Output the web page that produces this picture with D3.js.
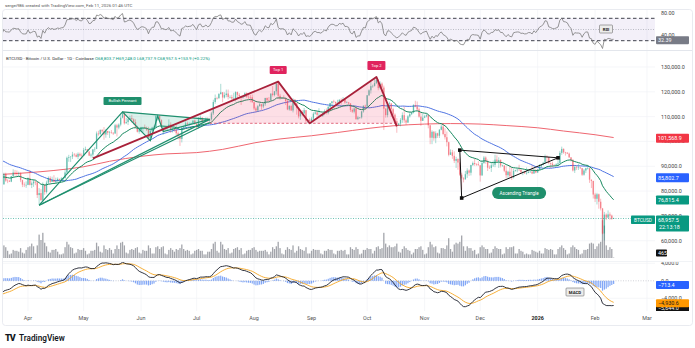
<!DOCTYPE html>
<html><head><meta charset="utf-8">
<script src="https://cdn.jsdelivr.net/npm/d3@7"></script>
<style>body{margin:0;background:#fff}svg{display:block;font-family:Roboto,"Liberation Sans",Arial,sans-serif}</style>
</head><body><svg id="c" width="695" height="348"></svg>
<script>
// ---------------- DATA (prices in thousands USD) ----------------
const closeStart = "2025-01-20";
const closes = [
102.0,106.1,103.6,104.0,104.7,104.7,102.6,102.0,101.3,103.7,104.7,102.4,
100.6,97.7,101.4,97.9,96.6,96.5,96.5,96.4,96.5,97.4,95.7,97.8,96.6,97.5,97.6,96.1,95.8,95.5,96.6,98.3,96.1,96.6,96.3,91.5,88.7,84.3,84.7,84.4,
86.1,94.3,86.1,87.2,90.6,89.9,86.7,86.2,80.7,78.5,82.9,83.7,81.1,84.0,84.3,82.6,84.1,82.7,86.9,84.2,84.1,83.8,86.0,87.5,87.4,86.9,87.2,84.4,82.6,82.4,82.5,
85.2,82.5,83.1,83.8,83.5,78.4,79.2,76.3,82.6,79.6,83.4,85.3,83.7,84.5,83.6,84.0,84.9,84.5,85.1,85.2,87.5,93.4,93.7,93.9,94.7,94.6,93.8,95.0,94.3,94.2,
96.5,96.9,95.9,94.3,94.7,96.8,97.0,103.2,102.9,104.6,104.1,102.8,104.2,103.5,103.7,103.5,103.2,106.5,105.6,106.8,109.6,111.7,107.3,107.8,109.0,109.4,108.9,107.8,105.6,103.9,104.6,
105.7,105.8,105.4,104.7,101.5,104.3,105.6,105.8,110.2,110.3,108.6,105.9,106.1,105.4,105.6,106.8,104.6,104.9,104.6,103.3,102.1,101.0,105.5,106.0,107.3,106.9,107.1,107.3,108.4,107.1,
105.7,108.9,109.6,108.0,108.2,109.2,108.3,108.9,111.3,115.9,117.5,117.4,119.1,119.8,117.7,118.7,119.3,117.9,117.9,117.3,117.4,119.9,118.8,118.3,117.6,117.9,119.4,118.0,117.9,117.8,115.8,
113.3,112.5,114.2,115.0,114.1,115.0,117.5,116.6,116.5,119.3,118.7,120.2,123.3,118.4,117.4,117.5,117.4,116.3,112.9,114.3,112.5,116.9,115.4,113.5,110.1,111.8,111.3,112.6,108.4,108.8,108.2,
109.2,111.2,111.7,110.7,110.7,110.2,111.1,112.0,111.5,113.9,115.5,116.1,115.9,115.3,115.4,116.8,116.5,117.1,115.7,115.7,115.3,112.7,112.0,113.3,109.0,109.7,109.7,112.1,114.4,114.1,
118.6,120.6,122.3,122.4,123.5,124.8,121.5,123.3,121.7,113.2,110.6,115.2,115.3,113.0,110.8,108.2,106.5,107.2,108.7,110.6,108.5,107.6,110.1,111.0,111.6,114.6,114.1,112.9,110.0,108.3,109.6,
110.1,110.6,106.5,101.5,103.9,101.3,103.3,102.3,104.7,106.0,103.0,101.7,99.7,94.6,95.6,94.2,92.2,92.9,91.5,86.6,85.1,84.7,86.8,88.3,87.4,90.5,91.3,90.9,90.8,90.4,
86.3,91.3,93.5,92.1,89.4,89.3,90.4,90.6,92.7,92.0,92.5,90.3,90.3,88.2,86.4,87.8,86.1,85.5,88.1,88.4,88.6,88.5,87.6,87.7,87.2,87.3,87.8,87.8,87.1,88.4,87.5,
88.7,90.0,90.6,91.4,93.9,93.7,91.3,91.0,90.5,90.4,90.8,91.2,95.4,97.0,95.6,95.5,95.1,93.6,92.6,88.3,89.7,89.5,89.5,89.2,86.6,88.3,89.2,89.2,84.6,84.1,78.6,
76.9,78.7,75.7,73.0,62.9,70.5,69.3,70.6,70.1,68.8,68.9575];

const candleStart = "2025-03-15";
const highs = [
84.7,85.0,84.7,84.1,87.4,87.4,84.8,84.5,86.1,88.8,88.5,88.3,87.8,87.5,84.6,83.5,83.9,
85.5,88.5,83.9,84.7,84.2,83.8,81.2,80.8,83.5,82.7,84.2,85.9,86.0,85.8,86.4,85.4,85.5,85.0,85.6,85.3,88.7,93.9,94.6,94.0,95.8,95.3,95.2,95.6,95.5,95.2,
97.4,97.9,96.9,96.1,95.2,96.9,97.7,104.0,104.3,104.9,105.0,105.8,105.0,104.3,104.2,104.6,103.7,107.1,107.1,107.3,110.8,111.9,111.9,109.5,109.4,110.4,110.7,109.3,108.9,106.3,104.9,
105.9,105.9,106.8,106.0,105.9,105.2,105.9,106.4,110.6,110.5,110.4,108.9,106.2,106.2,106.0,108.9,107.7,105.6,105.3,106.5,104.0,103.0,106.1,106.3,108.1,108.0,107.7,107.6,108.5,108.8,
107.5,109.8,110.5,109.7,108.4,109.7,109.7,109.2,111.9,116.8,118.9,118.0,119.5,123.2,119.9,119.8,120.9,120.9,118.6,118.8,119.6,120.2,120.1,119.5,118.4,118.2,119.8,119.8,119.2,118.8,118.9,
116.0,114.0,114.7,115.7,115.1,115.7,117.6,117.7,117.9,119.3,122.3,120.3,123.7,124.5,119.2,117.9,118.6,117.6,116.8,114.6,114.8,117.4,117.0,115.6,113.6,112.4,112.6,113.5,112.6,108.9,109.5,
109.9,111.8,112.6,112.2,113.4,111.2,111.6,112.9,113.3,114.3,115.5,116.3,116.8,116.1,116.8,117.0,117.4,117.9,117.5,116.2,115.9,115.4,113.3,114.0,113.5,110.3,109.8,112.3,114.5,114.8,
118.7,121.0,123.9,122.9,125.7,126.2,125.1,124.2,123.8,122.5,113.4,115.8,116.0,115.4,113.6,111.3,109.4,107.5,109.4,111.7,114.0,109.2,110.6,112.0,111.9,115.0,116.4,116.1,113.6,111.6,111.2,
110.6,111.2,110.8,106.6,104.5,104.2,104.1,103.5,105.0,106.7,107.4,105.3,104.0,99.9,96.8,96.6,96.0,93.8,93.2,93.0,87.4,85.6,88.1,89.2,88.7,90.6,91.9,93.1,91.2,92.0,
90.4,92.3,94.1,94.0,92.7,90.3,91.7,92.3,94.6,94.4,93.6,92.8,90.6,90.4,90.0,88.2,90.4,89.5,89.0,88.6,89.1,90.6,88.9,88.0,88.1,89.5,88.0,88.2,90.3,89.2,89.0,
88.9,90.9,90.8,91.8,94.7,94.4,93.7,91.5,91.8,90.8,91.2,92.4,96.2,97.9,97.2,95.8,95.6,95.5,93.6,92.8,90.4,90.3,91.0,89.8,89.3,88.9,89.4,90.5,89.3,84.6,84.1,
79.3,79.3,79.0,76.9,73.2,71.6,71.0,72.2,71.4,70.5,69.248];
const lows = [
83.9,82.0,82.4,81.2,82.6,83.7,83.2,83.7,83.6,85.6,86.3,85.9,85.8,83.6,81.6,81.6,81.3,
82.4,82.3,81.2,81.7,82.4,77.2,74.5,76.2,74.6,78.5,79.0,82.7,83.0,83.7,83.6,83.1,83.9,84.2,84.3,83.9,85.1,87.0,91.8,91.7,92.9,93.9,93.6,92.9,93.9,92.9,
94.1,96.3,95.7,94.1,93.5,93.4,95.8,96.9,102.3,102.8,103.3,100.7,101.5,102.6,101.4,103.1,102.6,103.1,102.0,104.9,106.1,109.3,106.8,107.2,106.6,108.7,107.6,106.8,105.4,103.6,103.1,
103.9,103.8,105.1,104.2,100.4,101.1,103.9,104.9,105.3,108.4,108.1,105.5,102.7,104.4,104.5,105.5,103.4,103.6,103.9,102.4,100.8,98.2,99.6,104.6,105.5,106.6,106.4,106.9,107.2,106.7,
105.3,105.2,108.6,107.3,107.8,107.8,107.5,107.5,108.4,110.6,115.2,116.9,117.3,118.9,115.8,117.3,117.8,116.9,117.3,116.6,116.3,116.2,117.4,117.8,114.7,117.3,117.9,117.5,117.1,115.8,115.6,
112.7,112.0,112.0,114.1,112.7,113.4,114.3,115.9,116.3,116.5,118.1,118.2,118.9,117.2,116.8,117.2,117.3,114.7,112.6,112.4,112.3,111.7,114.6,110.8,109.3,108.7,110.4,110.9,107.5,107.4,108.1,
107.3,108.6,110.8,109.3,110.0,109.9,110.0,110.6,110.9,110.9,113.4,114.1,115.3,115.0,114.5,114.8,114.8,116.4,115.2,115.4,115.1,111.9,111.5,111.3,108.7,108.6,109.1,109.2,111.6,112.7,
113.9,118.3,119.3,121.6,122.1,123.1,120.6,121.0,119.7,104.6,109.6,109.7,113.0,109.9,110.2,107.5,103.5,106.4,106.1,107.5,107.5,106.7,107.5,109.6,110.6,111.3,113.8,112.2,109.6,106.3,108.9,
109.4,109.7,105.3,98.9,98.9,100.3,99.3,101.4,101.4,104.5,102.5,100.8,98.0,94.0,94.6,93.0,91.3,89.3,88.6,86.1,80.6,83.5,84.7,85.3,86.1,86.3,90.1,90.2,90.2,90.3,
83.8,86.2,91.0,91.0,88.1,88.9,87.7,89.7,89.6,91.6,89.3,89.5,89.8,87.6,85.2,85.3,85.4,84.5,85.1,87.8,87.6,88.2,86.8,86.4,86.9,86.6,87.2,87.4,86.8,86.9,87.2,
87.3,88.4,89.4,90.4,91.1,91.7,90.8,89.3,89.6,90.2,90.0,90.1,91.1,94.6,95.0,94.3,94.9,93.4,91.9,87.9,87.3,88.5,88.5,89.0,86.1,86.2,87.3,88.7,83.3,81.2,77.0,
75.6,74.6,72.9,72.2,62.6,60.1,68.3,69.2,68.4,68.4,68.7379];
// daily volume, thousand BTC
const volumes = [
4,5,8,11,14,12,8,4,5,9,8,8,7,11,6,5,9,
12,13,16,13,5,14,26,20,28,17,13,7,6,9,9,10,7,4,4,5,12,18,15,12,11,5,6,10,9,9,
11,8,4,5,8,8,9,17,13,7,6,14,10,9,11,9,5,10,14,10,17,18,14,6,5,9,10,9,11,12,6,
5,9,8,8,14,11,5,5,12,13,10,12,13,5,4,9,11,9,7,10,9,11,15,10,8,9,8,4,5,8,
9,10,8,8,4,4,7,7,10,16,18,8,6,18,15,10,9,11,5,6,10,11,12,9,11,4,5,8,9,9,11,
12,9,7,8,8,8,9,7,4,7,12,10,13,18,11,5,4,9,12,10,9,14,6,8,13,10,9,8,12,5,5,
8,10,9,9,9,5,4,8,8,10,9,9,5,4,8,8,9,8,9,4,4,12,10,9,12,10,4,5,9,9,
11,10,10,5,8,12,13,10,11,28,16,12,14,12,12,13,16,7,6,10,13,11,9,8,4,6,10,10,12,13,9,
4,5,12,18,15,12,13,6,5,11,11,10,14,22,10,7,15,17,16,18,25,13,8,13,11,11,8,9,4,5,
12,14,12,10,10,5,6,10,13,11,10,10,4,5,12,10,12,12,13,5,5,10,8,7,4,5,4,4,9,8,7,
6,8,5,5,11,10,9,10,9,4,4,10,12,14,11,9,4,5,12,14,12,10,9,4,5,9,9,10,16,17,16,
10,13,16,18,42,36,14,9,12,10,0.465];
// 200-day SMA
const sma200Dates = ["2025-03-15","2025-04-01","2025-04-15","2025-05-01","2025-05-15","2025-06-01","2025-06-15","2025-07-01","2025-07-15","2025-08-01","2025-08-15","2025-09-01","2025-09-15","2025-10-01","2025-10-15","2025-11-01","2025-11-15","2025-12-01","2025-12-15","2026-01-01","2026-01-15","2026-02-01","2026-02-11"];
const sma200Vals = [86.6,87.4,88.3,89.8,92.0,94.0,95.0,95.5,96.8,99.4,101.0,102.3,103.6,105.2,106.3,107.0,107.2,107.0,106.4,105.5,104.2,102.7,101.5689];

const monthTicks = ["2025-04-01","2025-05-01","2025-06-01","2025-07-01","2025-08-01","2025-09-01","2025-10-01","2025-11-01","2025-12-01","2026-01-01","2026-02-01","2026-03-01"];
const monthLabels = ["Apr","May","Jun","Jul","Aug","Sep","Oct","Nov","Dec","2026","Feb","Mar"];
const priceTicks = [130000,120000,110000,100000,90000,80000,70000,60000];
const rsiTicks = [80,40];
const macdTicks = [4000,0,-4000];

// drawings [date, price k]
const pennantOutline = [["2025-04-07",74.3],["2025-05-22",111.9],["2025-06-06",100.3],["2025-06-10",110.2],["2025-06-13",104.0],["2025-07-08",108.9]];
const pennantFan = [[["2025-04-07",74.3],["2025-07-08",108.9]],[["2025-04-07",74.3],["2025-07-08",107.6]],[["2025-05-22",111.9],["2025-07-08",108.9]]];
const topsLine = [["2025-05-06",93.2],["2025-08-14",124.1],["2025-08-31",107.3],["2025-10-06",126.0],["2025-10-17",106.1]];
const topsFill = [["2025-07-08",107.3],["2025-07-08",112.6],["2025-08-14",124.1],["2025-08-31",107.3],["2025-10-06",126.0],["2025-10-17",106.1],["2025-10-17",107.3]];
const neckline = [["2025-07-08",107.3],["2025-10-17",107.3]];
const trianglePts = [["2025-11-20",96.5],["2025-11-21",77.2],["2026-01-12",93.4]];
const noteLabels = [
 {text:"Bullish Pennant",d:"2025-05-22",p:116.3,w:38,h:8,fill:"#1f8f6c",r:1},
 {text:"Top 1",d:"2025-08-14",p:128.8,w:17,h:8,fill:"#e0245e",r:1},
 {text:"Top 2",d:"2025-10-06",p:130.6,w:18,h:9,fill:"#e0245e",r:1},
 {text:"Ascending Triangle",d:"2025-12-22",p:79.2,w:54,h:12,fill:"#1f8f6c",r:6}
];
const headerText = "sergei986 created with TradingView.com, Feb 11, 2026 01:46 UTC";
const symbolText = "BTCUSD · Bitcoin / U.S. Dollar · 1D · Coinbase";
const ohlcText = "O68,803.7 H69,248.0 L68,737.9 C68,957.5 +153.9 (+0.22%)";
const lastVals = {sma200:101568.9, sma50:85802.7, ema20:76815.4, close:68957.5, countdown:"22:13:18", vol:"465", rsi:"32.39", hist:-713.4, signal:-4930.6, macd:-5644.0};

// ---------------- SETUP ----------------
const P = s => new Date(s + "T00:00:00Z");
const svg = d3.select("#c");
const X0 = 3, X1 = 655;
const x = d3.scaleUtc().domain([P("2025-04-01"), P("2026-03-01")]).range([28, 647]);
const y = d3.scaleLinear().domain([60000,130000]).range([240.7,67]);
const yv = d3.scaleLinear().domain([0,30]).range([258,231]);
const yr = d3.scaleLinear().domain([30,70]).range([40.7,18.3]);
const ym = d3.scaleLinear().domain([-4000,4000]).range([298.3,263.3]);
const fmt1 = d3.format(",.1f");

const defs = svg.append("defs");
function clip(id,x0,y0,x1,y1){defs.append("clipPath").attr("id",id).append("rect").attr("x",x0).attr("y",y0).attr("width",x1-x0).attr("height",y1-y0);}
clip("cm",X0,51,X1,260); clip("cr",X0,10,X1,49); clip("cd",X0,262,X1,311); clip("ca",X0,262,693,311);

const cdates = closes.map((v,i)=>d3.utcDay.offset(P(closeStart),i));
const cl = closes.map(v=>v*1000);

// indicators
function ema(a,n){const k=2/(n+1);let p=a[0];return a.map((v,i)=>(p=i?v*k+p*(1-k):v));}
function sma(a,n){return a.map((v,i)=>i<n-1?null:d3.mean(a.slice(i-n+1,i+1)));}
function rsi(a,n){const o=[null];let ag=0,al=0;for(let i=1;i<a.length;i++){const c=a[i]-a[i-1],g=Math.max(c,0),l=Math.max(-c,0);if(i<=n){ag+=g/n;al+=l/n;o.push(i===n?100-100/(1+ag/al):null);}else{ag=(ag*(n-1)+g)/n;al=(al*(n-1)+l)/n;o.push(100-100/(1+ag/al));}}return o;}
const e20 = ema(cl,20), s50 = sma(cl,50), r14 = rsi(cl,14);
const e12 = ema(cl,12), e26 = ema(cl,26);
const macd = e12.map((v,i)=>v-e26[i]);
const sig = ema(macd,9);
const hist = macd.map((v,i)=>v-sig[i]);

// ---------------- FRAME / GRID ----------------
svg.append("text").attr("x",5).attr("y",6.5).attr("font-size",4.4).attr("fill","#555").text(headerText);
svg.append("rect").attr("x",2.5).attr("y",9.5).attr("width",690).attr("height",316).attr("rx",3).attr("fill","none").attr("stroke","#e3e6ec").attr("stroke-width",0.8);
const grid = svg.append("g").attr("stroke","#f0f2f6").attr("stroke-width",0.7);
monthTicks.forEach(t=>grid.append("line").attr("x1",x(P(t))).attr("x2",x(P(t))).attr("y1",10).attr("y2",311));
priceTicks.forEach(t=>grid.append("line").attr("x1",X0).attr("x2",X1).attr("y1",y(t)).attr("y2",y(t)));
[4000,-4000].forEach(t=>grid.append("line").attr("x1",X0).attr("x2",X1).attr("y1",ym(t)).attr("y2",ym(t)));
svg.append("line").attr("x1",X0).attr("x2",692).attr("y1",50.5).attr("y2",50.5).attr("stroke","#e3e6ec").attr("stroke-width",1);
svg.append("line").attr("x1",X0).attr("x2",692).attr("y1",261.5).attr("y2",261.5).attr("stroke","#eef0f4").attr("stroke-width",0.8);

// ---------------- RSI PANE ----------------
const gr = svg.append("g").attr("clip-path","url(#cr)");
gr.append("rect").attr("x",X0).attr("width",X1-X0).attr("y",yr(70)).attr("height",yr(30)-yr(70)).attr("fill","rgba(126,87,194,0.09)");
[70,30].forEach(v=>gr.append("line").attr("x1",X0).attr("x2",X1).attr("y1",yr(v)).attr("y2",yr(v)).attr("stroke","#2a2e39").attr("stroke-width",0.9).attr("stroke-dasharray","3.5,2.5"));
gr.append("line").attr("x1",X0).attr("x2",X1).attr("y1",yr(50)).attr("y2",yr(50)).attr("stroke","#9598a1").attr("stroke-width",0.6).attr("stroke-dasharray","1,1.5");
const rsiData = cdates.map((d,i)=>[d,r14[i]]).filter(v=>v[1]!=null);
gr.append("path").datum(rsiData).attr("fill","none").attr("stroke","#7b7b7b").attr("stroke-width",0.8)
  .attr("d",d3.line().x(d=>x(d[0])).y(d=>yr(d[1])));

// ---------------- MAIN PANE ----------------
const gm = svg.append("g").attr("clip-path","url(#cm)");
// volume
const vStart = P(candleStart);
gm.append("g").selectAll("rect").data(volumes).join("rect")
  .attr("x",(v,i)=>x(d3.utcDay.offset(vStart,i))-0.65).attr("width",1.3)
  .attr("y",v=>yv(v)).attr("height",v=>258-yv(v)).attr("fill","#8c8f96").attr("opacity",0.8);
// 200 SMA
gm.append("path").datum(sma200Dates.map((d,i)=>[P(d),sma200Vals[i]*1000])).attr("fill","none").attr("stroke","#ef6670").attr("stroke-width",1)
  .attr("d",d3.line().curve(d3.curveMonotoneX).x(d=>x(d[0])).y(d=>y(d[1])));
// 50 SMA
gm.append("path").datum(cdates.map((d,i)=>[d,s50[i]]).filter(v=>v[1]!=null)).attr("fill","none").attr("stroke","#4f74e3").attr("stroke-width",1)
  .attr("d",d3.line().x(d=>x(d[0])).y(d=>y(d[1])));
// candles
const cStartIdx = d3.utcDay.count(P(closeStart),P(candleStart));
const candles = highs.map((h,i)=>{const k=cStartIdx+i;const o=cl[k-1],c=cl[k];return {d:cdates[k],o,c,h:Math.max(h*1000,o,c),l:Math.min(lows[i]*1000,o,c)};});
const gc = gm.append("g").attr("opacity",0.62);
gc.selectAll("line").data(candles).join("line").attr("x1",d=>x(d.d)).attr("x2",d=>x(d.d)).attr("y1",d=>y(d.h)).attr("y2",d=>y(d.l))
  .attr("stroke",d=>d.c>=d.o?"#089981":"#f23645").attr("stroke-width",0.55);
gc.selectAll("rect").data(candles).join("rect").attr("x",d=>x(d.d)-0.65).attr("width",1.3)
  .attr("y",d=>y(Math.max(d.o,d.c))).attr("height",d=>Math.max(0.5,Math.abs(y(d.o)-y(d.c))))
  .attr("fill",d=>d.c>=d.o?"#089981":"#f23645");
// 20 EMA
gm.append("path").datum(cdates.map((d,i)=>[d,e20[i]])).attr("fill","none").attr("stroke","#17895f").attr("stroke-width",1)
  .attr("d",d3.line().x(d=>x(d[0])).y(d=>y(d[1])));
// last price line
gm.append("line").attr("x1",X0).attr("x2",X1).attr("y1",y(lastVals.close)).attr("y2",y(lastVals.close)).attr("stroke","#089981").attr("stroke-width",0.6).attr("stroke-dasharray","1,1.5");

// drawings
const L = d3.line().x(d=>x(P(d[0]))).y(d=>y(d[1]*1000));
gm.append("path").datum(pennantOutline.concat([pennantOutline[1]])).attr("d",L).attr("fill","rgba(34,171,128,0.16)").attr("stroke","none");
pennantFan.forEach(s=>gm.append("path").datum(s).attr("d",L).attr("fill","none").attr("stroke","#1e8f6e").attr("stroke-width",1.2));
gm.append("path").datum(pennantOutline).attr("d",L).attr("fill","none").attr("stroke","#1e8f6e").attr("stroke-width",1.2);
gm.append("path").datum(topsFill).attr("d",L).attr("fill","rgba(242,54,100,0.16)").attr("stroke","none");
gm.append("path").datum(neckline).attr("d",L).attr("fill","none").attr("stroke","#d9485f").attr("stroke-width",0.8).attr("stroke-dasharray","2.5,2");
gm.append("path").datum(topsLine).attr("d",L).attr("fill","none").attr("stroke","#a8213a").attr("stroke-width",1.8).attr("stroke-linejoin","round");
gm.append("path").datum(trianglePts.concat([trianglePts[0]])).attr("d",L).attr("fill","none").attr("stroke","#111").attr("stroke-width",1);
trianglePts.forEach(p=>gm.append("rect").attr("x",x(P(p[0]))-1.8).attr("y",y(p[1]*1000)-1.8).attr("width",3.6).attr("height",3.6).attr("fill","#111"));
noteLabels.forEach(n=>{const cx=x(P(n.d)),cy=y(n.p*1000);
  gm.append("rect").attr("x",cx-n.w/2).attr("y",cy-n.h/2).attr("width",n.w).attr("height",n.h).attr("rx",n.r).attr("fill",n.fill);
  gm.append("text").attr("x",cx).attr("y",cy+1.5).attr("text-anchor","middle").attr("font-size",n.h>10?4.6:4.1).attr("fill","#fff").text(n.text);});

// symbol line
const st = svg.append("text").attr("x",6).attr("y",60).attr("font-size",4.4);
st.append("tspan").attr("fill","#333").text(symbolText+"  ");
st.append("tspan").attr("fill","#089981").text(ohlcText);

// ---------------- MACD PANE ----------------
const gd = svg.append("g").attr("clip-path","url(#cd)");
gd.append("line").attr("x1",X0).attr("x2",X1).attr("y1",ym(0)).attr("y2",ym(0)).attr("stroke","#b2b5be").attr("stroke-width",0.6).attr("stroke-dasharray","1,1.5");
gd.append("g").selectAll("rect").data(cdates.map((d,i)=>[d,hist[i]])).join("rect")
  .attr("x",d=>x(d[0])-0.6).attr("width",1.2).attr("y",d=>Math.min(ym(0),ym(d[1]))).attr("height",d=>Math.abs(ym(d[1])-ym(0)))
  .attr("fill","#2f6cf0").attr("opacity",0.6);
gd.append("path").datum(cdates.map((d,i)=>[d,sig[i]])).attr("fill","none").attr("stroke","#f5a623").attr("stroke-width",0.9)
  .attr("d",d3.line().x(d=>x(d[0])).y(d=>ym(d[1])));
gd.append("path").datum(cdates.map((d,i)=>[d,macd[i]])).attr("fill","none").attr("stroke","#1c1f2b").attr("stroke-width",0.9)
  .attr("d",d3.line().x(d=>x(d[0])).y(d=>ym(d[1])));

// pane tags
function tag(cx,cy,t){svg.append("rect").attr("x",cx-6.5).attr("y",cy-4).attr("width",13).attr("height",8).attr("fill","#ececec").attr("stroke","#555").attr("stroke-width",0.5).attr("rx",0.8);
 svg.append("text").attr("x",cx).attr("y",cy+1.6).attr("text-anchor","middle").attr("font-size",4.3).attr("font-weight","bold").attr("fill","#222").text(t);}
tag(606,29,"RSI");
svg.append("rect").attr("x",566).attr("y",288).attr("width",18).attr("height",8).attr("fill","#ececec").attr("stroke","#555").attr("stroke-width",0.5).attr("rx",0.8);
svg.append("text").attr("x",575).attr("y",293.6).attr("text-anchor","middle").attr("font-size",4.3).attr("font-weight","bold").attr("fill","#222").text("MACD");

// ---------------- AXES ----------------
const ax = svg.append("g").attr("font-size",5.4).attr("fill","#444");
priceTicks.forEach(t=>ax.append("text").attr("x",661).attr("y",y(t)+1.9).text(fmt1(t)));
rsiTicks.forEach(t=>ax.append("text").attr("x",661).attr("y",yr(t)+1.9).text(d3.format(".2f")(t)));
const axm = svg.append("g").attr("clip-path","url(#ca)").attr("font-size",5.4).attr("fill","#444");
macdTicks.forEach(t=>axm.append("text").attr("x",661).attr("y",ym(t)+1.9).text(fmt1(t)));
monthLabels.forEach((m,i)=>ax.append("text").attr("x",x(P(monthTicks[i]))).attr("y",320).attr("text-anchor","middle").attr("font-weight",m==="2026"?"bold":"normal").attr("fill",m==="2026"?"#222":"#555").text(m));

function box(g,xx,cy,w,h,fill,t,col){g.append("rect").attr("x",xx).attr("y",cy-h/2).attr("width",w).attr("height",h).attr("rx",0.8).attr("fill",fill);
 g.append("text").attr("x",xx+2).attr("y",cy+1.9).attr("font-size",5.4).attr("fill",col||"#fff").text(t);}
box(svg,656,yr(+lastVals.rsi)+0.8,33,8,"#787b86",lastVals.rsi);
box(svg,656,y(lastVals.sma200)+0.8,33,9,"#f23645",fmt1(lastVals.sma200));
box(svg,656,y(lastVals.sma50)+1,33,9,"#2962ff",fmt1(lastVals.sma50));
box(svg,656,y(lastVals.ema20)+1,33,9,"#089981",fmt1(lastVals.ema20));
const cy0 = y(lastVals.close)+1.5;
svg.append("rect").attr("x",656).attr("y",cy0-4.5).attr("width",33).attr("height",16).attr("rx",0.8).attr("fill","#089981");
svg.append("text").attr("x",658).attr("y",cy0+1.9).attr("font-size",5.4).attr("fill","#fff").text(fmt1(lastVals.close));
svg.append("text").attr("x",659).attr("y",cy0+9).attr("font-size",5.4).attr("fill","#fff").text(lastVals.countdown);
svg.append("rect").attr("x",631).attr("y",cy0-4.5).attr("width",24).attr("height",8.5).attr("rx",0.8).attr("fill","#089981");
svg.append("text").attr("x",643).attr("y",cy0+1.9).attr("text-anchor","middle").attr("font-size",4.8).attr("fill","#fff").text("BTCUSD");
box(svg,656,253,11,7,"#111",lastVals.vol);
box(axm,656,ym(lastVals.macd)+2.5,33,8,"#111",fmt1(lastVals.macd));
box(axm,656,ym(lastVals.signal)+1,33,8,"#ff9800",fmt1(lastVals.signal),"#1a1a1a");
box(axm,656,ym(lastVals.hist)+1,33,8,"#2962ff",fmt1(lastVals.hist));

// logo
const lg = svg.append("g");
lg.append("text").attr("x",5).attr("y",340.5).attr("font-size",9).attr("font-weight","900").attr("fill","#131722").attr("letter-spacing",-1).text("TV");
lg.append("text").attr("x",19).attr("y",340.5).attr("font-size",8.2).attr("font-weight","600").attr("fill","#131722").text("TradingView");
</script></body></html>
